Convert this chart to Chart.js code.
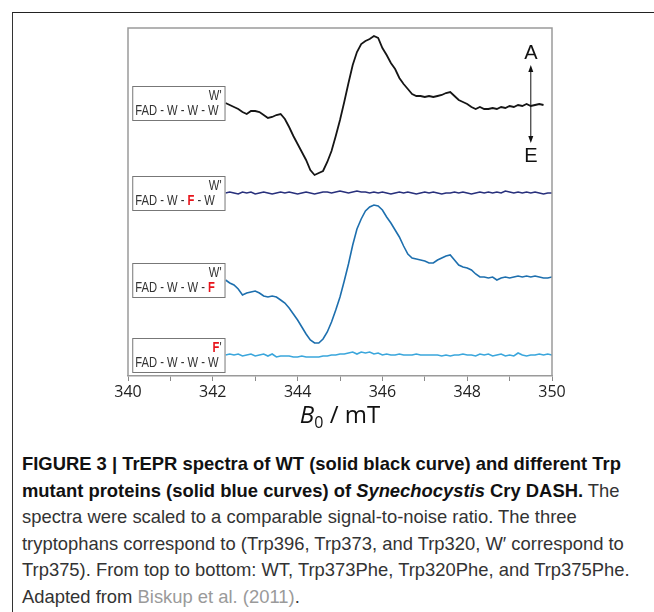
<!DOCTYPE html>
<html>
<head>
<meta charset="utf-8">
<script src="https://cdn.jsdelivr.net/npm/chart.js@4"></script>
<style>
  html, body { margin: 0; padding: 0; background: #fff; }
  body { width: 654px; height: 612px; position: relative; overflow: hidden; }
  .frame { position: absolute; left: 12px; top: 12px; width: 700px; height: 700px;
           border-top: 1.5px solid #222; border-left: 1.5px solid #333; }
  .plot { position: absolute; left: 0; top: 0; width: 654px; height: 430px; }
  .xtitle { position: absolute; left: 0; width: 680px; top: 397px; text-align: center;
            font-family: "Open Sans", sans-serif; font-size: 24px; color: #111; }
  .xtitle sub { font-size: 16px; vertical-align: -5px; }
  .caption { position: absolute; left: 22px; top: 451px; font-family: "Liberation Sans", Arial, sans-serif;
             font-size: 18.4px; line-height: 26.5px; color: #333; }
  .caption div { white-space: nowrap; }
  .caption b { color: #111; }
  .caption .ref { color: #9a9a9a; }
</style>
</head>
<body>
<div class="frame"></div>
<div class="plot"><canvas id="trepr"></canvas></div>
<div class="xtitle"><i>B</i><sub>0</sub> / mT</div>
<div class="caption">
  <div><b>FIGURE 3 | TrEPR spectra of WT (solid black curve) and different Trp</b></div>
  <div><b>mutant proteins (solid blue curves) of <i>Synechocystis</i> Cry DASH.</b> The</div>
  <div>spectra were scaled to a comparable signal-to-noise ratio. The three</div>
  <div>tryptophans correspond to (Trp396, Trp373, and Trp320, W′ correspond to</div>
  <div>Trp375). From top to bottom: WT, Trp373Phe, Trp320Phe, and Trp375Phe.</div>
  <div>Adapted from <span class="ref">Biskup et al. (2011)</span>.</div>
</div>
<script>
// magnetic field, mT
const field = [342.3, 342.4, 342.5, 342.6, 342.7, 342.8, 342.9,
  343.0, 343.1, 343.2, 343.3, 343.4, 343.5, 343.6, 343.7, 343.8, 343.9,
  344.0, 344.1, 344.2, 344.3, 344.4, 344.5, 344.6, 344.7, 344.8, 344.9,
  345.0, 345.1, 345.2, 345.3, 345.4, 345.5, 345.6, 345.7, 345.8, 345.9,
  346.0, 346.1, 346.2, 346.3, 346.4, 346.5, 346.6, 346.7, 346.8, 346.9,
  347.0, 347.1, 347.2, 347.3, 347.4, 347.5, 347.6, 347.7, 347.8, 347.9,
  348.0, 348.1, 348.2, 348.3, 348.4, 348.5, 348.6, 348.7, 348.8, 348.9,
  349.0, 349.1, 349.2, 349.3, 349.4, 349.5, 349.6, 349.7, 349.8, 349.9,
  350.0];

// signal (A up / E down), arbitrary units
const wt = [2, 0, -2, -4, -7, -9, -6,
  -6, -7, -10, -13, -12, -10, -9, -14, -22, -31,
  -39, -47, -55, -65, -70, -68, -66, -57, -46, -31,
  -15, 3, 22, 40, 53, 61, 64, 66, 69, 67,
  57, 50, 42, 36, 27, 21, 16, 11, 9, 9,
  8, 9, 8, 9, 10, 12, 13, 9, 5, 3,
  1, -2, -4, -2, -4, -4, -3, -4, -2, -3,
  -1, -2, 0, -1, 1, -1, 0, 1, 0];

const w373f = [0, 1, 0, -1, 1, 0, 1,
  -1, 0, 1, 0, -1, 0, 1, 0, 1, 0,
  -1, 0, 1, 0, -1, 0, 1, 1, 0, 1,
  2, 1, 0, 1, 2, 1, 1, 0, 1, 0,
  1, 0, -1, 0, 1, 0, 1, 0, -1, 0,
  1, 0, 1, 0, -1, 0, 0, 1, 0, 1,
  0, -1, 0, 1, 0, 1, 0, 1, 0, 2,
  1, 0, 1, 0, 1, 0, 1, 0, -1, 0,
  0];

const w320f = [-3, -6, -8, -12, -18, -16, -15,
  -14, -16, -19, -20, -19, -20, -23, -26, -31, -37,
  -43, -50, -57, -63, -66, -66, -62, -55, -45, -33,
  -20, -4, 13, 32, 48, 58, 66, 70, 72, 71,
  67, 60, 54, 47, 40, 31, 23, 19, 18, 17,
  16, 14, 14, 17, 19, 21, 22, 17, 12, 10,
  9, 7, 3, 0, 0, -1, 0, -3, -1, 0,
  -1, 0, 1, 0, 1, 0, 1, 0, -1, -1,
  0];

const w375f = [0, 1, 0, 1, -1, 0, 1,
  -1, 0, 1, -1, 1, -2, -1, -1, -1, -2,
  -2, -1, -2, -2, -2, -2, -1, -1, 0, 0,
  1, 1, 2, 3, 1, 3, 2, 3, 1, 2,
  0, 1, 0, 0, 1, 0, 0, 0, 1, 0,
  0, 0, 0, 0, -1, 0, -1, 0, 0, 1,
  0, 0, -1, 1, 0, 1, -1, 0, 1, -1,
  0, -1, 2, 0, -1, 0, 0, 1, 0, 1,
  0];

const spectra = [wt, w373f, w320f, w375f];
const offsets = [271, 183, 99, 21];
const colors = ['#151515', '#28307c', '#1d6fae', '#3aa6dc'];

// radical / chain labels, red marks the Phe
const topLabels = [[['W\'', 0]], [['W\'', 0]], [['W\'', 0]], [['F', 1], ['\'', 0]]];
const chainLabels = [
  [['FAD - W - W - W', 0]],
  [['FAD - W - ', 0], ['F', 1], [' - W', 0]],
  [['FAD - W - W - ', 0], ['F', 1]],
  [['FAD - W - W - W', 0]]
];

const xTicks = [340, 342, 344, 346, 348, 350];

const datasets = spectra.map((s, i) => ({
  data: s.map((v, j) => ({ x: field[j], y: v + offsets[i] })),
  borderColor: colors[i],
  borderWidth: i === 0 ? 1.8 : 1.6,
  pointRadius: 0,
  tension: 0,
  fill: false
}));

// labels in the boxes are set in a narrow face; squeeze a normal one to fit
const SQUEEZE = 0.8;
function drawSegs(ctx, segs, x, y, align) {
  const fontN = '14px "Liberation Sans", Arial, sans-serif';
  const fontB = 'bold 14px "Liberation Sans", Arial, sans-serif';
  let total = 0;
  segs.forEach(([t, red]) => { ctx.font = red ? fontB : fontN; total += ctx.measureText(t).width; });
  ctx.save();
  ctx.translate(align === 'right' ? x - total * SQUEEZE : x, y);
  ctx.scale(SQUEEZE, 1);
  let cx = 0;
  segs.forEach(([t, red]) => {
    ctx.font = red ? fontB : fontN;
    ctx.fillStyle = red ? '#e8141b' : '#333';
    ctx.fillText(t, cx, 0);
    cx += ctx.measureText(t).width;
  });
  ctx.restore();
}

const decor = {
  id: 'decor',
  afterDatasetsDraw(chart) {
    const { ctx, chartArea: a, scales: { x, y } } = chart;
    ctx.save();
    // plot frame
    ctx.strokeStyle = '#9a9a9a';
    ctx.lineWidth = 1.5;
    ctx.beginPath();
    ctx.moveTo(a.left, a.bottom); ctx.lineTo(a.left, a.top);
    ctx.lineTo(a.right, a.top); ctx.lineTo(a.right, a.bottom);
    ctx.stroke();

    // label boxes beside each spectrum
    ctx.textBaseline = 'alphabetic';
    spectra.forEach((s, i) => {
      const l = x.getPixelForValue(340.1), r = x.getPixelForValue(342.3);
      const cy = y.getPixelForValue(offsets[i] + s[0]);
      const t = cy - 17, b = cy + 18;
      ctx.fillStyle = '#fff';
      ctx.fillRect(l, t, r - l, b - t);
      ctx.strokeStyle = '#777';
      ctx.lineWidth = 1;
      ctx.strokeRect(l + 0.5, t + 0.5, r - l - 1, b - t - 1);
      drawSegs(ctx, topLabels[i], r - 4, t + 14, 'right');
      drawSegs(ctx, chainLabels[i], l + 3, b - 6, 'left');
    });

    // A / E arrow
    const ax = x.getPixelForValue(349.5);
    ctx.strokeStyle = '#111';
    ctx.fillStyle = '#111';
    ctx.lineWidth = 1;
    ctx.beginPath();
    ctx.moveTo(ax, 70); ctx.lineTo(ax, 138);
    ctx.stroke();
    ctx.beginPath();
    ctx.moveTo(ax, 65); ctx.lineTo(ax - 2.5, 72); ctx.lineTo(ax + 2.5, 72); ctx.closePath();
    ctx.moveTo(ax, 143); ctx.lineTo(ax - 2.5, 136); ctx.lineTo(ax + 2.5, 136); ctx.closePath();
    ctx.fill();
    ctx.font = '20px "Liberation Sans", Arial, sans-serif';
    ctx.textAlign = 'center';
    ctx.textBaseline = 'middle';
    ctx.fillText('A', ax, 53);
    ctx.fillText('E', ax, 156);
    ctx.restore();
  }
};

new Chart(document.getElementById('trepr'), {
  type: 'line',
  data: { datasets },
  options: {
    responsive: true,
    maintainAspectRatio: false,
    animation: false,
    events: [],
    layout: { padding: { left: 128, right: 102, top: 28, bottom: 0 } },
    plugins: { legend: { display: false }, tooltip: { enabled: false } },
    scales: {
      x: {
        type: 'linear',
        min: 340,
        max: 350,
        afterFit(scale) { scale.height = 54; },
        border: { color: '#9a9a9a', width: 1.5 },
        grid: { drawOnChartArea: false, drawTicks: true, tickLength: 5, color: '#8a8a8a' },
        ticks: {
          stepSize: 1,
          padding: 2,
          color: '#222',
          font: { family: '"Open Sans", sans-serif', size: 16 },
          maxRotation: 0,
          autoSkip: false,
          callback: (v) => (xTicks.includes(v) ? String(v) : '')
        }
      },
      y: { display: false, min: 0, max: 348 }
    }
  },
  plugins: [decor]
});
</script>
</body>
</html>
